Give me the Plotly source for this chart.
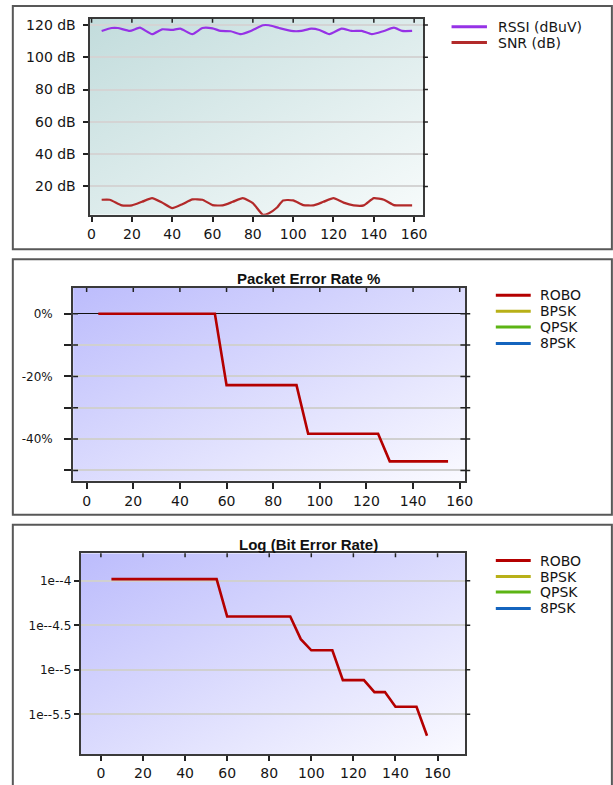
import base64
import plotly.graph_objects as go

# ---------------- data ----------------
rssi_x = [5, 10, 13, 19, 24, 30, 35, 40, 44, 50, 55, 60, 64, 69, 74, 79, 85, 88,
          93, 99, 104, 109, 113, 118, 124, 129, 134, 139, 145, 150, 154, 159]
rssi_db = [116.3, 118.1, 118.1, 116.3, 118.3, 114.3, 117.3, 116.9, 117.7, 114.3,
           118.1, 117.9, 116.3, 116.1, 114.3, 116.3, 119.8, 119.8, 118.1, 116.3,
           116.3, 117.7, 116.9, 114.3, 117.7, 116.3, 116.3, 114.3, 116.3, 118.3,
           116.3, 116.3]

snr_x = [5, 9, 15, 20, 25, 30, 35, 40, 45, 50, 55, 60, 65, 70, 75, 80, 85, 88,
         92, 95, 100, 105, 110, 115, 120, 125, 130, 135, 140, 145, 150, 155, 159]
snr_db = [11.8, 11.8, 8.3, 8.3, 10.5, 12.8, 10.0, 6.6, 9.0, 12.0, 11.8, 8.5, 8.3,
          10.5, 12.8, 9.7, 2.5, 3.5, 7.0, 11.4, 11.4, 8.5, 8.3, 10.5, 12.8, 10.0,
          8.3, 8.3, 12.8, 11.8, 8.5, 8.3, 8.3]

distance = [5, 10, 15, 20, 25, 30, 35, 40, 45, 50, 55, 60, 65, 70, 75, 80, 85, 90,
            95, 100, 105, 110, 115, 120, 125, 130, 135, 140, 145, 150, 155]

per_robo = [0, 0, 0, 0, 0, 0, 0, 0, 0, 0, 0,
            -22.8, -22.8, -22.8, -22.8, -22.8, -22.8, -22.8,
            -38.3, -38.3, -38.3, -38.3, -38.3, -38.3, -38.3,
            -47.1, -47.1, -47.1, -47.1, -47.1, -47.1]

logber_robo = [-3.98, -3.98, -3.98, -3.98, -3.98, -3.98, -3.98, -3.98, -3.98, -3.98, -3.98,
               -4.40, -4.40, -4.40, -4.40, -4.40, -4.40, -4.40,
               -4.655, -4.78, -4.78, -4.78,
               -5.115, -5.115, -5.115,
               -5.25, -5.25,
               -5.414, -5.414, -5.414,
               -5.74]

signal_names = ["RSSI (dBuV)", "SNR (dB)"]
signal_colors = ["#9632e6", "#b22a2a"]
mod_names = ["ROBO", "BPSK", "QPSK", "8PSK"]
mod_colors = ["#b40000", "#b8b018", "#5cb414", "#1464be"]

db_ticks = [20, 40, 60, 80, 100, 120]
db_labels = ["20 dB", "40 dB", "60 dB", "80 dB", "100 dB", "120 dB"]
per_ticks = [0, -10, -20, -30, -40, -50]
per_labels = ["0%", "", "-20%", "", "-40%", ""]
ber_ticks = [-4, -4.5, -5, -5.5]
ber_labels = ["1e--4", "1e--4.5", "1e--5", "1e--5.5"]
x_ticks = [0, 20, 40, 60, 80, 100, 120, 140, 160]

# ---------------- layout helpers ----------------
W, H = 613, 785


def px(x):
    return x / W


def py(y):
    return 1 - y / H


def gradient_src(c0, c1):
    svg = ('<svg xmlns="http://www.w3.org/2000/svg" width="200" height="200" '
           'preserveAspectRatio="none"><defs><linearGradient id="g" x1="0" y1="0" '
           'x2="1" y2="1"><stop offset="0" stop-color="%s"/><stop offset="1" '
           'stop-color="%s"/></linearGradient></defs><rect width="200" height="200" '
           'fill="url(#g)"/></svg>') % (c0, c1)
    return "data:image/svg+xml;base64," + base64.b64encode(svg.encode()).decode()


SANS = "DejaVu Sans, Verdana, sans-serif"
ARIAL = "Liberation Sans, Arial, sans-serif"
TXT = "#151515"
TICK = "#222"

fig = go.Figure()

# panel 1: signal levels
fig.add_trace(go.Scatter(x=rssi_x, y=rssi_db, name=signal_names[0], mode="lines",
                         line=dict(color=signal_colors[0], width=2.2, shape="spline", smoothing=0.5),
                         xaxis="x", yaxis="y"))
fig.add_trace(go.Scatter(x=snr_x, y=snr_db, name=signal_names[1], mode="lines",
                         line=dict(color=signal_colors[1], width=2.2, shape="spline", smoothing=0.5),
                         xaxis="x", yaxis="y"))

# panel 2: packet error rate
fig.add_trace(go.Scatter(x=distance, y=per_robo, name=mod_names[0], mode="lines",
                         line=dict(color=mod_colors[0], width=2.6), xaxis="x2", yaxis="y2"))
for name, col in zip(mod_names[1:], mod_colors[1:]):
    fig.add_trace(go.Scatter(x=[], y=[], name=name, mode="lines",
                             line=dict(color=col, width=2.6), xaxis="x2", yaxis="y2"))

# panel 3: log bit error rate
fig.add_trace(go.Scatter(x=distance, y=logber_robo, name=mod_names[0], mode="lines",
                         line=dict(color=mod_colors[0], width=2.6), xaxis="x3", yaxis="y3"))
for name, col in zip(mod_names[1:], mod_colors[1:]):
    fig.add_trace(go.Scatter(x=[], y=[], name=name, mode="lines",
                             line=dict(color=col, width=2.6), xaxis="x3", yaxis="y3"))

frame = dict(showline=True, linecolor="#3a3a3a", linewidth=2, mirror=True,
             ticks="outside", tickcolor=TICK, tickwidth=1.5, showgrid=False,
             zeroline=False)

# top ticks point into the plot; right ticks stick out (rin = part inside the frame);
# left ticks of the middle chart cross the frame (lin = part inside)
panels = [
    dict(xd=(89, 428), yd=(213.3, 16.7), xr=[-1, 164.4], yr=[2.5, 123.9],
         yt=db_ticks, yl=db_labels, yfs=14, ylen=5, ystand=4, xlen=5, grid="#d4d4d4",
         top=4, rout=5, rin=0, lin=0),
    dict(xd=(72.3, 471), yd=(480, 286.7), xr=[-5.8, 162.4], yr=[-53.3, 8.2],
         yt=per_ticks, yl=per_labels, yfs=12, ylen=7, ystand=9, xlen=6, grid="#d0d0d0",
         top=4, rout=5, rin=5, lin=5),
    dict(xd=(80, 471), yd=(754.3, 552.7), xr=[-9.6, 173.2], yr=[-5.95, -3.69],
         yt=ber_ticks, yl=ber_labels, yfs=12, ylen=5, ystand=0, xlen=5, grid="#d0d0d0",
         top=4, rout=5, rin=0, lin=0),
]

layout = dict(width=W, height=H, margin=dict(l=0, r=0, t=0, b=0),
              paper_bgcolor="white", plot_bgcolor="rgba(0,0,0,0)", showlegend=False)

for i, p in enumerate(panels):
    n = "" if i == 0 else str(i + 1)
    xa, ya = "x" + n, "y" + n
    layout["xaxis" + n] = dict(frame, domain=[px(p["xd"][0]), px(p["xd"][1])], range=p["xr"],
                               anchor=ya, tickvals=x_ticks, ticklen=p["xlen"],
                               tickfont=dict(family=SANS, size=14, color=TXT))
    layout["yaxis" + n] = dict(frame, domain=[py(p["yd"][0]), py(p["yd"][1])], range=p["yr"],
                               anchor=xa, tickvals=p["yt"], ticktext=p["yl"], ticklen=p["ylen"],
                               ticklabelstandoff=p["ystand"], showgrid=True,
                               gridcolor=p["grid"], gridwidth=1.5,
                               tickfont=dict(family=SANS, size=p["yfs"], color=TXT))

layout["yaxis2"].update(zeroline=True, zerolinecolor="#111", zerolinewidth=1.3)
fig.update_layout(**layout)

# edge tick marks on the top / right sides, placed at the axis tick values
for i, p in enumerate(panels):
    n = "" if i == 0 else str(i + 1)
    pw = p["xd"][1] - p["xd"][0]
    ph = p["yd"][0] - p["yd"][1]
    for t in x_ticks:
        fig.add_shape(type="line", xref="x" + n, yref="y%s domain" % n,
                      x0=t, x1=t, y0=1, y1=1 - p["top"] / ph,
                      line=dict(color=TICK, width=1.5))
    for t in p["yt"]:
        fig.add_shape(type="line", xref="x%s domain" % n, yref="y" + n,
                      x0=1 - p["rin"] / pw, x1=1 + p["rout"] / pw, y0=t, y1=t,
                      line=dict(color=TICK, width=1.5))
        if p["lin"]:
            fig.add_shape(type="line", xref="x%s domain" % n, yref="y" + n,
                          x0=0, x1=p["lin"] / pw, y0=t, y1=t,
                          line=dict(color=TICK, width=1.5))

# gradient plot backgrounds
for xr, yr, c0, c1 in [("x domain", "y domain", "#c2dcdc", "#f7fbfb"),
                       ("x2 domain", "y2 domain", "#bcbcfc", "#fafaff"),
                       ("x3 domain", "y3 domain", "#bcbcfc", "#fafaff")]:
    fig.add_layout_image(source=gradient_src(c0, c1), xref=xr, yref=yr, x=0, y=1,
                         sizex=1, sizey=1, xanchor="left", yanchor="top",
                         sizing="stretch", layer="below")

# panel frames
for top, bottom in [(4, 248), (258, 514), (524, 792)]:
    fig.add_shape(type="rect", xref="paper", yref="paper",
                  x0=px(11), x1=px(620), y0=py(bottom), y1=py(top),
                  line=dict(color="#585858", width=2), fillcolor="rgba(0,0,0,0)", layer="below")

# chart titles
for title, yc in [("Packet Error Rate %", 277.5), ("Log (Bit Error Rate)", 543.5)]:
    fig.add_annotation(text="<b>%s</b>" % title, xref="paper", yref="paper",
                       x=px(312), y=py(yc), xanchor="center", yanchor="middle",
                       showarrow=False, font=dict(family=ARIAL, size=15, color="#111"))


# legends
def legend(names, colors, x_line0, x_line1, x_text, rows):
    for name, col, yc in zip(names, colors, rows):
        fig.add_shape(type="line", xref="paper", yref="paper",
                      x0=px(x_line0), x1=px(x_line1), y0=py(yc), y1=py(yc),
                      line=dict(color=col, width=3))
        fig.add_annotation(text=name, xref="paper", yref="paper", x=px(x_text), y=py(yc),
                           xanchor="left", yanchor="middle", showarrow=False,
                           font=dict(family=SANS, size=14, color=TXT))


legend(signal_names, signal_colors, 457, 493, 502, [24.7, 40.7])
legend(mod_names, mod_colors, 502, 537.5, 545, [294, 310, 325.8, 342.3])
legend(mod_names, mod_colors, 502, 537.5, 545, [560, 576, 591.5, 608])

fig.write_html("out.html")
